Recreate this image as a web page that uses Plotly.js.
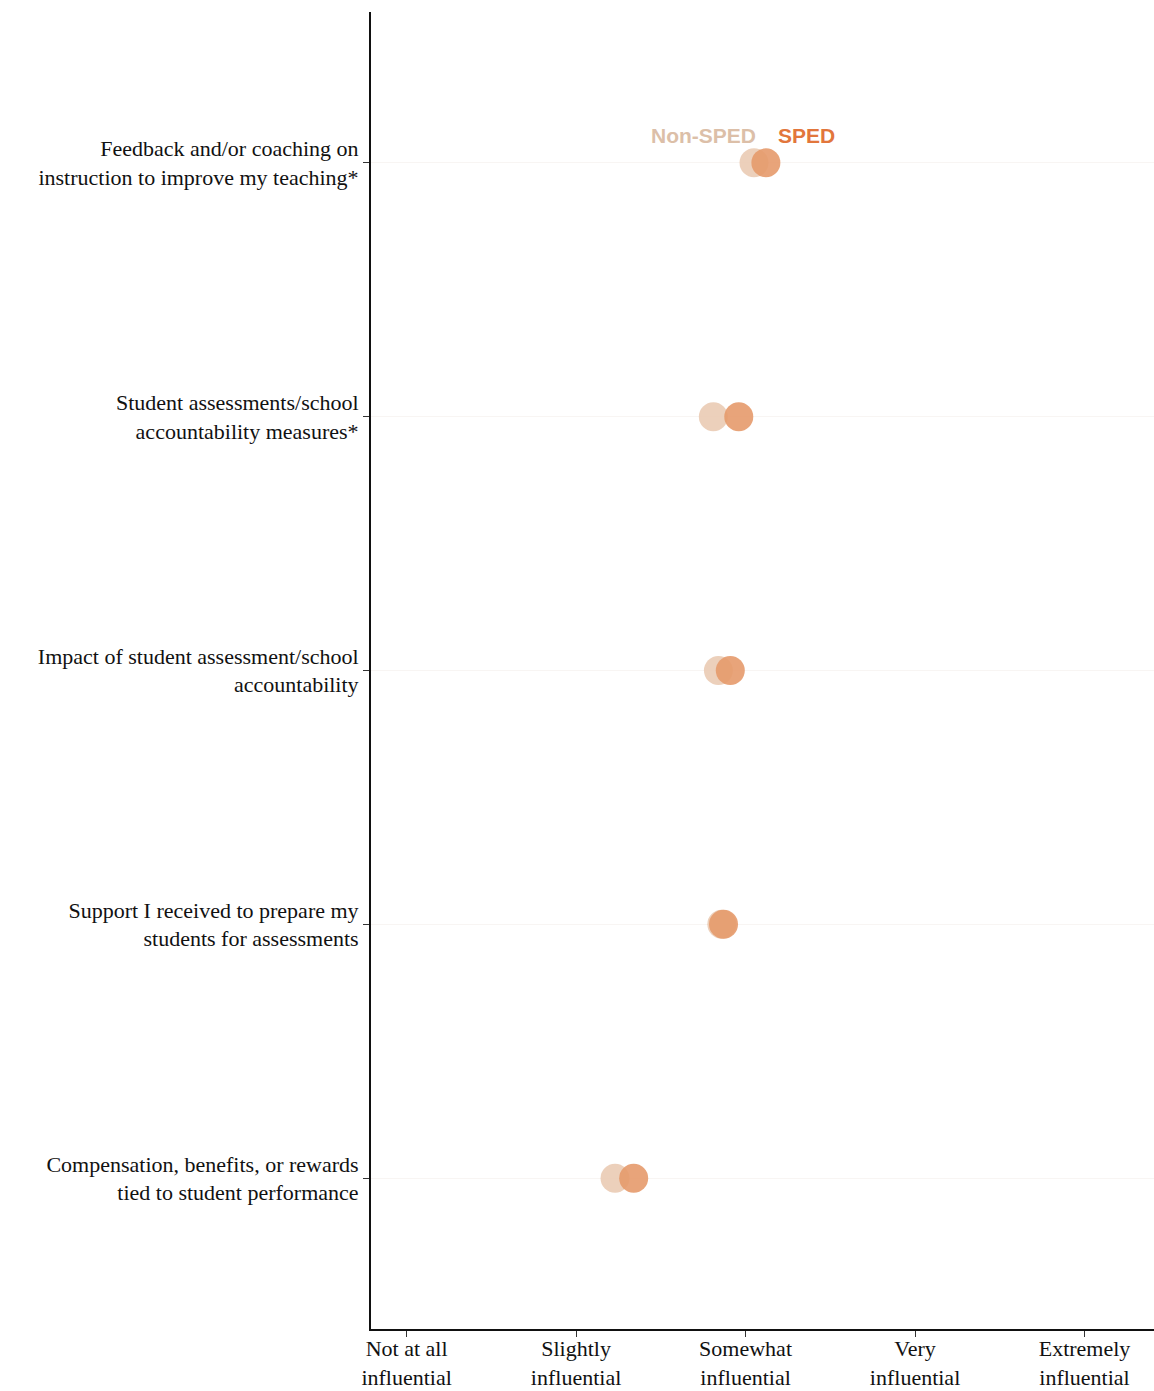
<!DOCTYPE html>
<html>
<head>
<meta charset="utf-8">
<script src="https://cdn.plot.ly/plotly-3.0.1.min.js"></script>
<style>html,body{margin:0;padding:0;background:#fff;}#chart{width:1154px;height:1391px;}</style>
</head>
<body>
<div id="chart"></div>
<script>
const categories = [
  "Feedback and/or coaching on<br>instruction to improve my teaching*",
  "Student assessments/school<br>accountability measures*",
  "Impact of student assessment/school<br>accountability",
  "Support I received to prepare my<br>students for assessments",
  "Compensation, benefits, or rewards<br>tied to student performance"
];
const nonSped = [3.05, 2.81, 2.84, 2.86, 2.23];
const sped = [3.12, 2.96, 2.91, 2.87, 2.34];
const scaleVals = [1, 2, 3, 4, 5];
const scaleLabels = ["Not at all<br>influential", "Slightly<br>influential", "Somewhat<br>influential", "Very<br>influential", "Extremely<br>influential"];

const serif = "Liberation Serif, Times New Roman, serif";
const traces = [
  {x: nonSped, y: categories, type: "scatter", mode: "markers", name: "Non-SPED",
   marker: {size: 29, color: "#eacbb4", opacity: 0.9, line: {width: 0}}},
  {x: sped, y: categories, type: "scatter", mode: "markers", name: "SPED",
   marker: {size: 29, color: "#e59a6b", opacity: 0.9, line: {width: 0}}}
];
const layout = {
  width: 1154, height: 1391,
  margin: {l: 371, r: 0, t: 12, b: 62},
  paper_bgcolor: "#fff", plot_bgcolor: "#fff",
  showlegend: false,
  font: {family: serif, color: "#111", size: 22},
  xaxis: {range: [0.79, 5.41], tickvals: scaleVals, ticktext: scaleLabels,
    showgrid: false, zeroline: false, showline: true, linecolor: "#111", linewidth: 2,
    ticks: "outside", ticklen: 6, tickcolor: "#333", tickwidth: 1, ticklabelstandoff: -7,
    tickfont: {family: serif, size: 22, color: "#111"}},
  yaxis: {type: "category", categoryorder: "array", categoryarray: categories,
    range: [4.594, -0.594], showgrid: true, gridcolor: "rgba(235,225,220,0.35)", gridwidth: 1,
    zeroline: false, showline: true, linecolor: "#111", linewidth: 2,
    ticks: "outside", ticklen: 6, tickcolor: "#333", tickwidth: 1,
    tickfont: {family: serif, size: 22, color: "#111"}},
  annotations: [
    {x: 2.75, y: -0.106, xref: "x", yref: "y", text: "<b>Non-SPED</b>", showarrow: false,
     font: {family: "Liberation Sans, Arial, sans-serif", size: 21, color: "#dcbfa8"}},
    {x: 3.36, y: -0.106, xref: "x", yref: "y", text: "<b>SPED</b>", showarrow: false,
     font: {family: "Liberation Sans, Arial, sans-serif", size: 21, color: "#e2763c"}}
  ]
};
Plotly.newPlot("chart", traces, layout, {displayModeBar: false, staticPlot: true});
</script>
</body>
</html>
